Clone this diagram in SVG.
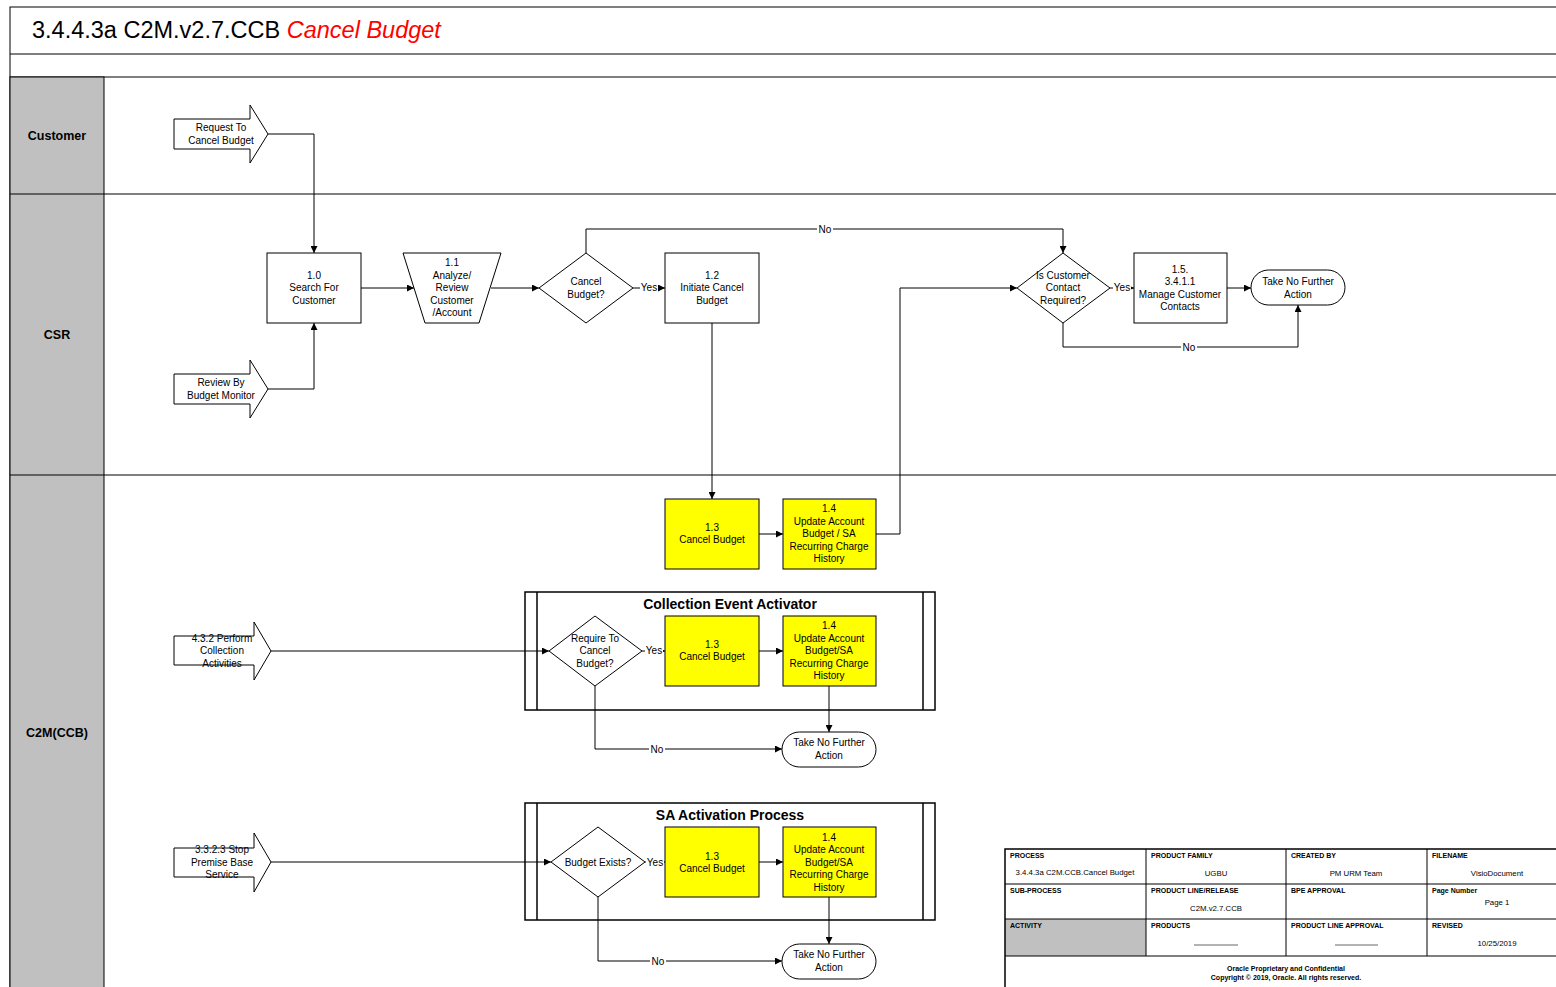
<svg xmlns="http://www.w3.org/2000/svg" width="1556" height="987" viewBox="0 0 1556 987">
<defs>
<marker id="ah" viewBox="0 0 10 10" refX="10" refY="5" markerWidth="7" markerHeight="7" orient="auto" markerUnits="userSpaceOnUse"><path d="M0,0 L10,5 L0,10 z" fill="#000"/></marker>
<style>
text{font-family:"Liberation Sans",Arial,sans-serif;fill:#000}
.t{font-size:10px;text-anchor:middle}
.lane{font-size:12.5px;font-weight:bold;text-anchor:middle}
.box{fill:#fff;stroke:#000;stroke-width:1}
.yel{fill:#ffff00;stroke:#000;stroke-width:1}
.frm{fill:none;stroke:#000;stroke-width:1.5}
.arr{fill:none;stroke:#000;stroke-width:1;marker-end:url(#ah)}
.lbl{font-size:10px;text-anchor:middle}
.bg{fill:#fff}
.ft{font-size:7px;font-weight:bold}
.fv{font-size:7.8px;text-anchor:middle}
.fr{font-size:14px;font-weight:bold;text-anchor:middle}
</style>
</defs>
<rect width="1556" height="987" fill="#fff"/>
<g id="frame">
<rect x="10" y="7" width="1560" height="990" fill="#fff" stroke="#000" stroke-width="1"/>
<line x1="10" y1="54" x2="1556" y2="54" stroke="#000"/>
<line x1="10" y1="77" x2="1556" y2="77" stroke="#000"/>
<text x="32" y="38" font-size="23.5">3.4.4.3a C2M.v2.7.CCB <tspan fill="#ff0000" font-style="italic">Cancel Budget</tspan></text>
</g>
<g id="lanes">
<rect x="10" y="77" width="94" height="920" fill="#c0c0c0" stroke="#000"/>
<line x1="10" y1="194" x2="1556" y2="194" stroke="#000"/>
<line x1="10" y1="475" x2="1556" y2="475" stroke="#000"/>
<text class="lane" x="57" y="140">Customer</text>
<text class="lane" x="57" y="339">CSR</text>
<text class="lane" x="57" y="737">C2M(CCB)</text>
</g>
<g id="cea">
<rect class="frm" x="525" y="592" width="410" height="118"/>
<line x1="537" y1="592" x2="537" y2="710" stroke="#000" stroke-width="1.5"/>
<line x1="923" y1="592" x2="923" y2="710" stroke="#000" stroke-width="1.5"/>
<text class="fr" x="730" y="609">Collection Event Activator</text>
</g>
<g id="sap">
<rect class="frm" x="525" y="803" width="410" height="117"/>
<line x1="537" y1="803" x2="537" y2="920" stroke="#000" stroke-width="1.5"/>
<line x1="923" y1="803" x2="923" y2="920" stroke="#000" stroke-width="1.5"/>
<text class="fr" x="730" y="820">SA Activation Process</text>
</g>
<g id="connectors">
<polyline class="arr" points="268,134 314,134 314,253"/>
<polyline class="arr" points="268,389 314,389 314,323"/>
<line class="arr" x1="361" y1="288" x2="414" y2="288"/>
<line class="arr" x1="491" y1="288" x2="539" y2="288"/>
<line class="arr" x1="633" y1="288" x2="665" y2="288"/>
<rect class="bg" x="640" y="282" width="18" height="11"/>
<text class="lbl" x="649" y="291">Yes</text>
<polyline class="arr" points="586,253 586,229 1063,229 1063,253"/>
<rect class="bg" x="817" y="223" width="16" height="11"/>
<text class="lbl" x="825" y="233">No</text>
<line class="arr" x1="1110" y1="288" x2="1134" y2="288"/>
<rect class="bg" x="1113" y="282" width="18" height="11"/>
<text class="lbl" x="1122" y="291">Yes</text>
<line class="arr" x1="1227" y1="288" x2="1251" y2="288"/>
<polyline class="arr" points="1063,323 1063,347 1298,347 1298,305"/>
<rect class="bg" x="1181" y="341" width="16" height="11"/>
<text class="lbl" x="1189" y="351">No</text>
<line class="arr" x1="712" y1="323" x2="712" y2="499"/>
<line class="arr" x1="759" y1="534" x2="783" y2="534"/>
<polyline class="arr" points="876,534 900,534 900,288 1017,288"/>
<line class="arr" x1="271" y1="651" x2="549" y2="651"/>
<line class="arr" x1="642" y1="651" x2="665" y2="651"/>
<rect class="bg" x="645" y="645" width="18" height="11"/>
<text class="lbl" x="654" y="654">Yes</text>
<line class="arr" x1="759" y1="651" x2="783" y2="651"/>
<line class="arr" x1="829" y1="686" x2="829" y2="732"/>
<polyline class="arr" points="595,686 595,749 782,749"/>
<rect class="bg" x="649" y="743" width="16" height="11"/>
<text class="lbl" x="657" y="753">No</text>
<line class="arr" x1="271" y1="862" x2="551" y2="862"/>
<line class="arr" x1="645" y1="862" x2="665" y2="862"/>
<rect class="bg" x="646" y="856" width="18" height="11"/>
<text class="lbl" x="655" y="866">Yes</text>
<line class="arr" x1="759" y1="862" x2="783" y2="862"/>
<line class="arr" x1="829" y1="897" x2="829" y2="944"/>
<polyline class="arr" points="598,897 598,961 782,961"/>
<rect class="bg" x="650" y="955" width="16" height="11"/>
<text class="lbl" x="658" y="965">No</text>
</g>
<g id="in-request">
<polygon class="box" points="174,119 250,119 250,105 268,134 250,163 250,149 174,149"/>
<text class="t" x="221" y="131">Request To</text>
<text class="t" x="221" y="144">Cancel Budget</text>
</g>
<g id="in-review">
<polygon class="box" points="174,374 250,374 250,360 268,389 250,418 250,404 174,404"/>
<text class="t" x="221" y="386">Review By</text>
<text class="t" x="221" y="399">Budget Monitor</text>
</g>
<g id="n1-0">
<rect class="box" x="267" y="253" width="94" height="70"/>
<text class="t" x="314" y="279">1.0</text>
<text class="t" x="314" y="291">Search For</text>
<text class="t" x="314" y="304">Customer</text>
</g>
<g id="n1-1">
<polygon class="box" points="403,253 501,253 479,323 425,323"/>
<text class="t" x="452" y="266">1.1</text>
<text class="t" x="452" y="279">Analyze/</text>
<text class="t" x="452" y="291">Review</text>
<text class="t" x="452" y="304">Customer</text>
<text class="t" x="452" y="316">/Account</text>
</g>
<g id="d-cancel">
<polygon class="box" points="586,253 633,288 586,323 539,288"/>
<text class="t" x="586" y="285">Cancel</text>
<text class="t" x="586" y="298">Budget?</text>
</g>
<g id="n1-2">
<rect class="box" x="665" y="253" width="94" height="70"/>
<text class="t" x="712" y="279">1.2</text>
<text class="t" x="712" y="291">Initiate Cancel</text>
<text class="t" x="712" y="304">Budget</text>
</g>
<g id="d-contact">
<polygon class="box" points="1063,253 1110,288 1063,323 1017,288"/>
<text class="t" x="1063" y="279">Is Customer</text>
<text class="t" x="1063" y="291">Contact</text>
<text class="t" x="1063" y="304">Required?</text>
</g>
<g id="n1-5">
<rect class="box" x="1134" y="253" width="93" height="70"/>
<text class="t" x="1180" y="273">1.5.</text>
<text class="t" x="1180" y="285">3.4.1.1</text>
<text class="t" x="1180" y="298">Manage Customer</text>
<text class="t" x="1180" y="310">Contacts</text>
</g>
<g id="end-csr">
<rect class="box" x="1251" y="270" width="94" height="35" rx="17.5"/>
<text class="t" x="1298" y="285">Take No Further</text>
<text class="t" x="1298" y="298">Action</text>
</g>
<g id="n1-3">
<rect class="yel" x="665" y="499" width="94" height="70"/>
<text class="t" x="712" y="531">1.3</text>
<text class="t" x="712" y="543">Cancel Budget</text>
</g>
<g id="n1-4">
<rect class="yel" x="783" y="499" width="93" height="70"/>
<text class="t" x="829" y="512">1.4</text>
<text class="t" x="829" y="525">Update Account</text>
<text class="t" x="829" y="537">Budget / SA</text>
<text class="t" x="829" y="550">Recurring Charge</text>
<text class="t" x="829" y="562">History</text>
</g>
<g id="in-collect">
<polygon class="box" points="174,636 254,636 254,622 271,651 254,680 254,665 174,665"/>
<text class="t" x="222" y="642">4.3.2 Perform</text>
<text class="t" x="222" y="654">Collection</text>
<text class="t" x="222" y="667">Activities</text>
</g>
<g id="d-require">
<polygon class="box" points="595,616 642,651 595,686 549,651"/>
<text class="t" x="595" y="642">Require To</text>
<text class="t" x="595" y="654">Cancel</text>
<text class="t" x="595" y="667">Budget?</text>
</g>
<g id="c1-3">
<rect class="yel" x="665" y="616" width="94" height="70"/>
<text class="t" x="712" y="648">1.3</text>
<text class="t" x="712" y="660">Cancel Budget</text>
</g>
<g id="c1-4">
<rect class="yel" x="783" y="616" width="93" height="70"/>
<text class="t" x="829" y="629">1.4</text>
<text class="t" x="829" y="642">Update Account</text>
<text class="t" x="829" y="654">Budget/SA</text>
<text class="t" x="829" y="667">Recurring Charge</text>
<text class="t" x="829" y="679">History</text>
</g>
<g id="end-cea">
<rect class="box" x="782" y="732" width="94" height="35" rx="17.5"/>
<text class="t" x="829" y="746">Take No Further</text>
<text class="t" x="829" y="759">Action</text>
</g>
<g id="in-stop">
<polygon class="box" points="174,848 254,848 254,833 271,862 254,892 254,877 174,877"/>
<text class="t" x="222" y="853">3.3.2.3 Stop</text>
<text class="t" x="222" y="866">Premise Base</text>
<text class="t" x="222" y="878">Service</text>
</g>
<g id="d-exists">
<polygon class="box" points="598,827 645,862 598,897 551,862"/>
<text class="t" x="598" y="866">Budget Exists?</text>
</g>
<g id="s1-3">
<rect class="yel" x="665" y="827" width="94" height="70"/>
<text class="t" x="712" y="860">1.3</text>
<text class="t" x="712" y="872">Cancel Budget</text>
</g>
<g id="s1-4">
<rect class="yel" x="783" y="827" width="93" height="70"/>
<text class="t" x="829" y="841">1.4</text>
<text class="t" x="829" y="853">Update Account</text>
<text class="t" x="829" y="866">Budget/SA</text>
<text class="t" x="829" y="878">Recurring Charge</text>
<text class="t" x="829" y="891">History</text>
</g>
<g id="end-sap">
<rect class="box" x="782" y="944" width="94" height="35" rx="17.5"/>
<text class="t" x="829" y="958">Take No Further</text>
<text class="t" x="829" y="971">Action</text>
</g>
<g id="footer">
<rect x="1005" y="919" width="141" height="37" fill="#c0c0c0"/>
<rect x="1005" y="849" width="560" height="145" fill="none" stroke="#000" stroke-width="1.5"/>
<line x1="1005" y1="884" x2="1556" y2="884" stroke="#000"/>
<line x1="1005" y1="919" x2="1556" y2="919" stroke="#000"/>
<line x1="1005" y1="956" x2="1556" y2="956" stroke="#000"/>
<line x1="1146" y1="849" x2="1146" y2="956" stroke="#000"/>
<line x1="1286" y1="849" x2="1286" y2="956" stroke="#000"/>
<line x1="1427" y1="849" x2="1427" y2="956" stroke="#000"/>
<text class="ft" x="1010" y="858">PROCESS</text>
<text class="ft" x="1151" y="858">PRODUCT FAMILY</text>
<text class="ft" x="1291" y="858">CREATED BY</text>
<text class="ft" x="1432" y="858">FILENAME</text>
<text class="fv" x="1075" y="875">3.4.4.3a C2M.CCB.Cancel Budget</text>
<text class="fv" x="1216" y="876">UGBU</text>
<text class="fv" x="1356" y="876">PM URM Team</text>
<text class="fv" x="1497" y="876">VisioDocument</text>
<text class="ft" x="1010" y="893">SUB-PROCESS</text>
<text class="ft" x="1151" y="893">PRODUCT LINE/RELEASE</text>
<text class="ft" x="1291" y="893">BPE APPROVAL</text>
<text class="ft" x="1432" y="893">Page Number</text>
<text class="fv" x="1216" y="911">C2M.v2.7.CCB</text>
<text class="fv" x="1497" y="905">Page 1</text>
<text class="ft" x="1010" y="928">ACTIVITY</text>
<text class="ft" x="1151" y="928">PRODUCTS</text>
<text class="ft" x="1291" y="928">PRODUCT LINE APPROVAL</text>
<text class="ft" x="1432" y="928">REVISED</text>
<line x1="1194" y1="945" x2="1238" y2="945" stroke="#000" stroke-width="0.6"/>
<line x1="1335" y1="945" x2="1378" y2="945" stroke="#000" stroke-width="0.6"/>
<text class="fv" x="1497" y="946">10/25/2019</text>
<text class="ft" x="1286" y="971" text-anchor="middle">Oracle Proprietary and Confidential</text>
<text class="ft" x="1286" y="980" text-anchor="middle">Copyright © 2019, Oracle. All rights reserved.</text>
</g>
</svg>
